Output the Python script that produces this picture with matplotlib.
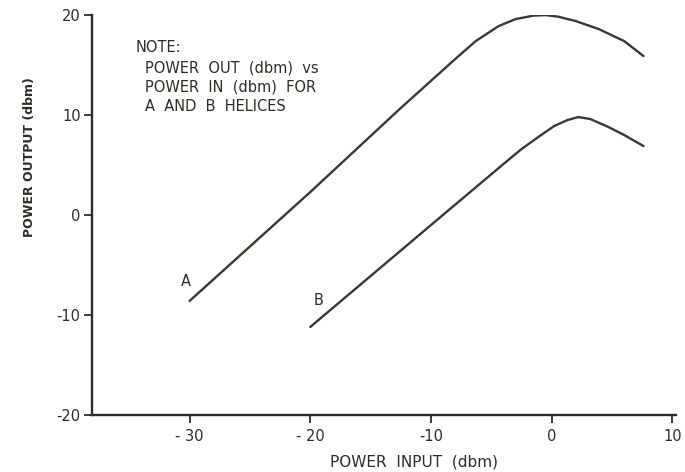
import matplotlib
matplotlib.use('Agg')
import matplotlib.pyplot as plt

# curve A
A_in = [-30, -20, -12.6, -8, -6.3, -4.4, -3, -1.5, -0.5, 0.5, 2, 3.9, 6, 7.6]
A_out = [-8.6, 2.3, 10.6, 15.6, 17.4, 18.9, 19.6, 19.95, 20.0, 19.85, 19.4, 18.6, 17.4, 15.9]

# curve B
B_in = [-20, -10, -4, -2.5, -1, 0.2, 1.3, 2.2, 3.2, 4.7, 6, 7.6]
B_out = [-11.2, -1.0, 5.1, 6.6, 7.9, 8.9, 9.5, 9.8, 9.6, 8.8, 8.0, 6.9]

xticks = [-30, -20, -10, 0, 10]
yticks = [-20, -10, 0, 10, 20]
xticklabels = ['- 30', '- 20', '-10', '0', '10']
yticklabels = ['-20', '-10', '0', '10', '20']

ink = '#2b3025'

fig = plt.figure(figsize=(6.85, 4.72), dpi=100)
ax = fig.add_axes([0.134, 0.121, 0.853, 0.847])

ax.plot(A_in, A_out, color='#363c2e', lw=1.7, solid_capstyle='round')
ax.plot(B_in, B_out, color='#363c2e', lw=1.7, solid_capstyle='round')

ax.set_xlim(-38.1, 10.3)
ax.set_ylim(-20, 20)
ax.set_xticks(xticks)
ax.set_yticks(yticks)
ax.set_xticklabels(xticklabels)
ax.set_yticklabels(yticklabels)
ax.get_yticklabels()[-1].set_color('#3d7a5e')

for s in ['top', 'right']:
    ax.spines[s].set_visible(False)
for s in ['left', 'bottom']:
    ax.spines[s].set_linewidth(1.7)
    ax.spines[s].set_color(ink)
ax.tick_params(direction='out', length=6, width=1.3, color=ink,
               labelcolor=ink, labelsize=10.5)
ax.tick_params(axis='x', pad=4)
ax.tick_params(axis='y', pad=2)

ax.set_xlabel('POWER  INPUT  (dbm)', fontsize=11, color=ink)
ax.xaxis.set_label_coords(0.551, -0.1)
ax.set_ylabel('POWER OUTPUT (dbm)', fontsize=9, color=ink, fontweight='bold')
ax.yaxis.set_label_coords(-0.095, 0.645)

ax.text(-30.3, -6.7, 'A', fontsize=10.5, color=ink, ha='center', va='center')
ax.text(-19.3, -8.6, 'B', fontsize=10.5, color=ink, ha='center', va='center')

ax.text(-34.5, 16.8, 'NOTE:', fontsize=10.5, color=ink, va='center')
ax.text(-33.7, 14.7, 'POWER  OUT  (dbm)  vs', fontsize=10.5, color=ink, va='center')
ax.text(-33.7, 12.8, 'POWER  IN  (dbm)  FOR', fontsize=10.5, color=ink, va='center')
ax.text(-33.7, 10.9, 'A  AND  B  HELICES', fontsize=10.5, color=ink, va='center')

fig.savefig('out.png', dpi=100)
